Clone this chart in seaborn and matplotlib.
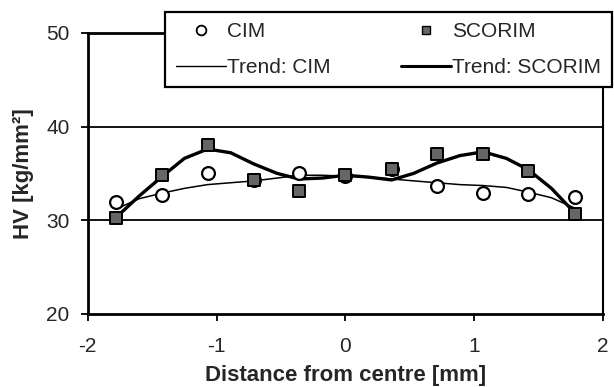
import matplotlib
matplotlib.use("Agg")
import matplotlib.pyplot as plt
import seaborn as sns
import numpy as np
import pandas as pd
from matplotlib.lines import Line2D

# measured points
distance = [-1.78, -1.42, -1.07, -0.71, -0.36, 0.0, 0.36, 0.71, 1.07, 1.42, 1.78]
cim = [31.9, 32.7, 35.0, 34.3, 35.0, 34.7, 35.5, 33.6, 32.9, 32.8, 32.5]
scorim = [30.2, 34.8, 38.0, 34.3, 33.1, 34.8, 35.5, 37.1, 37.1, 35.3, 30.7]

# trend curves
trend_x = [-1.78, -1.60, -1.42, -1.25, -1.07, -0.89, -0.71, -0.53, -0.36, -0.18, 0.0,
           0.18, 0.36, 0.53, 0.71, 0.89, 1.07, 1.25, 1.42, 1.60, 1.78]
trend_cim = [31.2, 32.3, 32.9, 33.4, 33.8, 34.0, 34.2, 34.5, 34.8, 34.8, 34.7,
             34.6, 34.4, 34.2, 34.0, 33.8, 33.7, 33.5, 33.0, 32.4, 31.3]
trend_scorim = [30.3, 32.6, 34.7, 36.6, 37.6, 37.2, 36.0, 35.0, 34.4, 34.5, 34.8,
                34.6, 34.3, 35.0, 36.1, 36.9, 37.3, 36.6, 35.4, 33.4, 30.8]

x_ticks = [-2, -1, 0, 1, 2]
y_ticks = [20, 30, 40, 50]

df = pd.DataFrame({"d": distance, "CIM": cim, "SCORIM": scorim})
tr = pd.DataFrame({"d": trend_x, "CIM": trend_cim, "SCORIM": trend_scorim})

sns.set_style("white")
plt.rcParams["font.family"] = ["Liberation Sans", "DejaVu Sans"]

fig = plt.figure(figsize=(6.14, 3.87), dpi=100)
ax = fig.add_axes([0.143, 0.189, 0.839, 0.726])

for yv in [30, 40]:
    ax.axhline(yv, color="black", lw=1.3, zorder=1)

sns.lineplot(data=tr, x="d", y="CIM", ax=ax, color="black", lw=1.1, zorder=2)
sns.lineplot(data=tr, x="d", y="SCORIM", ax=ax, color="black", lw=2.4, zorder=2)
sns.scatterplot(data=df, x="d", y="CIM", marker="o", s=85, facecolor="white",
                edgecolor="black", linewidth=1.6, ax=ax, zorder=3)
sns.scatterplot(data=df, x="d", y="SCORIM", marker="s", s=65, color="#666666",
                edgecolor="black", linewidth=1.4, ax=ax, zorder=4)

ax.set_xlim(-2, 2)
ax.set_ylim(20, 50)
ax.set_xticks(x_ticks)
ax.set_yticks(y_ticks)
ax.set_xticklabels([str(t) for t in x_ticks], fontsize=15)
ax.set_yticklabels([str(t) for t in y_ticks], fontsize=15)
ax.tick_params(axis="both", direction="out", length=5, width=1.3, color="black",
               bottom=True, left=True)
ax.tick_params(axis="x", pad=12)
ax.tick_params(axis="y", pad=8)
ax.set_xlabel("Distance from centre [mm]", fontsize=16, fontweight="bold", labelpad=6)
ax.set_ylabel("HV [kg/mm²]", fontsize=16, fontweight="bold", labelpad=9)
for side in ["left", "bottom", "right", "top"]:
    ax.spines[side].set_visible(True)
    ax.spines[side].set_color("black")
ax.spines["left"].set_linewidth(2.0)
ax.spines["bottom"].set_linewidth(2.0)
ax.spines["top"].set_linewidth(2.0)
ax.spines["right"].set_linewidth(1.5)

handles = [
    Line2D([], [], marker="o", ls="none", mfc="white", mec="black", mew=1.3, ms=7),
    Line2D([], [], color="black", lw=1.0),
    Line2D([], [], marker="s", ls="none", mfc="#666666", mec="black", mew=1.0, ms=6),
    Line2D([], [], color="black", lw=2.2),
]
labels = ["CIM", "Trend: CIM", "SCORIM", "Trend: SCORIM"]
leg = fig.legend(handles, labels, ncol=2, loc="upper left",
                 bbox_to_anchor=(0.269, 0.78, 0.727, 0.189), mode="expand",
                 fontsize=15, frameon=True, fancybox=False, edgecolor="black",
                 framealpha=1, handlelength=2.4, handletextpad=0.05,
                 borderaxespad=0, borderpad=0.5, labelspacing=0.8, columnspacing=1.0)
leg.get_frame().set_linewidth(1.6)

fig.savefig("out.png", dpi=100)
